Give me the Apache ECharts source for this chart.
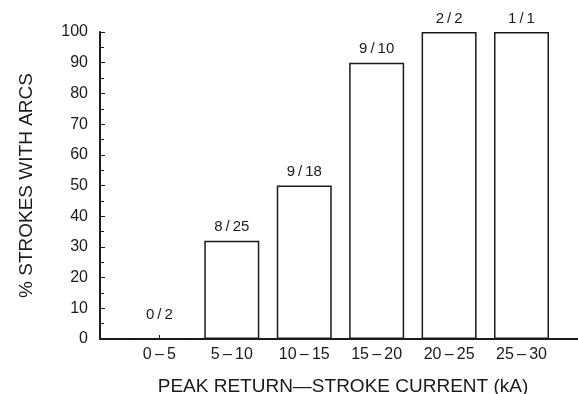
<!DOCTYPE html>
<html><head><meta charset="utf-8">
<script src="https://cdn.jsdelivr.net/npm/echarts@6/dist/echarts.min.js"></script>
<style>html,body{margin:0;padding:0;background:#fff}#c{width:578px;height:394px}</style>
</head><body><div id="c"></div>
<script>
const categories = ['0\u2009\u2013\u20095', '5\u2009\u2013\u200910', '10\u2009\u2013\u200915', '15\u2009\u2013\u200920', '20\u2009\u2013\u200925', '25\u2009\u2013\u200930'];
const binCenters = [2.5, 7.5, 12.5, 17.5, 22.5, 27.5];
const percentArcs = [0, 32, 50, 90, 100, 100];
const ratioLabels = ['0\u2009/\u20092', '8\u2009/\u200925', '9\u2009/\u200918', '9\u2009/\u200910', '2\u2009/\u20092', '1\u2009/\u20091'];
const yTicks = [0, 10, 20, 30, 40, 50, 60, 70, 80, 90, 100];

const font = 'Liberation Sans';
const ink = '#1a1a1a';
const chart = echarts.init(document.getElementById('c'), null, {renderer: 'canvas'});
chart.setOption({
  animation: false,
  backgroundColor: '#fff',
  grid: {left: 100, right: 0, top: 32, bottom: 55, containLabel: false, outerBoundsMode: 'none'},
  xAxis: {
    type: 'value', min: -1.6, max: 31.4,
    splitLine: {show: false},
    axisLine: {show: true, onZero: false, lineStyle: {color: ink, width: 2}},
    axisTick: {show: true, inside: true, length: 4, customValues: binCenters, lineStyle: {color: ink, width: 1}},
    axisLabel: {
      customValues: binCenters, margin: 8, fontFamily: font, fontSize: 16, color: ink,
      formatter: v => categories[binCenters.indexOf(v)] || ''
    },
    name: 'PEAK RETURN\u2014STROKE CURRENT (kA)', nameLocation: 'middle', nameGap: 38,
    nameTextStyle: {fontFamily: font, fontSize: 19, color: ink, padding: [0, 0, 0, 8]}
  },
  yAxis: {
    type: 'value', min: 0, max: 100, interval: 10,
    splitLine: {show: false},
    axisLine: {show: true, onZero: false, lineStyle: {color: ink, width: 2}},
    axisTick: {show: true, inside: true, length: 5, lineStyle: {color: ink, width: 1}},
    minorTick: {show: true, splitNumber: 2, length: 4, lineStyle: {color: ink, width: 1}},
    axisLabel: {customValues: yTicks, margin: 12, fontFamily: font, fontSize: 16, color: ink},
    name: '% STROKES WITH ARCS', nameLocation: 'middle', nameGap: 64, nameRotate: 90,
    nameTextStyle: {fontFamily: font, fontSize: 19, color: ink}
  },
  series: [{
    type: 'bar', barWidth: 55,
    data: binCenters.map((x, i) => ({
      value: [x, percentArcs[i]],
      label: {
        show: true, position: 'top', distance: percentArcs[i] === 0 ? 16 : 6,
        formatter: ratioLabels[i], fontFamily: font, fontSize: 15, color: ink
      }
    })),
    itemStyle: {color: '#fff', borderColor: ink, borderWidth: 1.5}
  }]
});
</script></body></html>
